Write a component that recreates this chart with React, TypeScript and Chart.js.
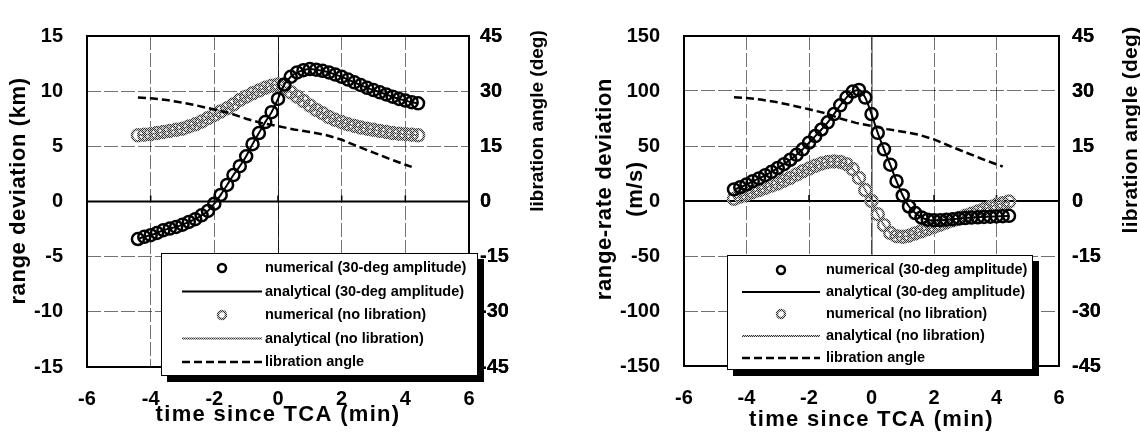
import React, { useEffect, useRef } from 'react';
import { Chart, registerables } from 'chart.js';

Chart.register(...registerables);

// ---------- data ----------
const TIME = [
  -4.4, -4.2, -4.0, -3.8, -3.6, -3.4, -3.2, -3.0, -2.8, -2.6, -2.4, -2.2, -2.0, -1.8, -1.6,
  -1.4, -1.2, -1.0, -0.8, -0.6, -0.4, -0.2, 0.0, 0.2, 0.4, 0.6, 0.8, 1.0, 1.2, 1.4,
  1.6, 1.8, 2.0, 2.2, 2.4, 2.6, 2.8, 3.0, 3.2, 3.4, 3.6, 3.8, 4.0, 4.2, 4.4,
];

// range deviation (km), 30-deg amplitude
const RANGE_NUM_30 = [
  -3.4, -3.2, -3.05, -2.85, -2.6, -2.45, -2.3, -2.1, -1.85, -1.6, -1.25, -0.85, -0.2, 0.6, 1.5,
  2.4, 3.2, 4.1, 5.2, 6.2, 7.2, 8.1, 9.3, 10.6, 11.3, 11.7, 11.9, 12.0, 11.95, 11.85,
  11.7, 11.5, 11.3, 11.05, 10.8, 10.55, 10.3, 10.1, 9.9, 9.7, 9.5, 9.3, 9.15, 9.0, 8.9,
];
const RANGE_ANA_30 = RANGE_NUM_30;

// range deviation (km), no libration
const RANGE_NUM_NO = [
  6.0, 6.05, 6.1, 6.2, 6.3, 6.4, 6.5, 6.6, 6.8, 7.0, 7.25, 7.55, 7.85, 8.15, 8.45,
  8.8, 9.2, 9.5, 9.8, 10.05, 10.3, 10.5, 10.6, 10.4, 9.9, 9.5, 9.1, 8.7, 8.3, 8.0,
  7.65, 7.4, 7.2, 7.0, 6.85, 6.7, 6.6, 6.5, 6.4, 6.3, 6.2, 6.15, 6.1, 6.05, 6.0,
];
const RANGE_ANA_NO = RANGE_NUM_NO;

// range-rate deviation (m/s), 30-deg amplitude
const RATE_NUM_30 = [
  10.5, 12.5, 15, 18, 20.5, 23.5, 26.5, 30, 33.5, 37.5, 42, 47, 53, 59, 65,
  71.5, 79, 87, 94, 99.5, 101, 94, 79, 62, 47, 33, 18, 5, -5, -11,
  -15, -17, -17.5, -17.5, -17, -16.5, -16, -15.5, -15, -14.8, -14.5, -14.3, -14, -13.8, -13.5,
];
const RATE_ANA_30 = RATE_NUM_30;

// range-rate deviation (m/s), no libration
const RATE_NUM_NO = [
  2, 4, 6, 8, 10, 12, 14, 16, 18.5, 21, 24, 27, 29.5, 32, 34,
  35.5, 36, 35.5, 33.5, 29, 21, 10, 0, -12, -22, -29, -32, -32.5, -31.5, -29.5,
  -27.5, -25.5, -23.5, -21.5, -19.5, -17.5, -15.5, -13.5, -11.5, -9.5, -7.5, -5.5, -3.5, -2, -0.5,
];
const RATE_ANA_NO = RATE_NUM_NO;

// libration angle (deg)
const LIB_T = [-4.4, -4.0, -3.5, -3.0, -2.5, -2.0, -1.5, -1.0, -0.5, 0, 0.5, 1.0, 1.5, 2.0, 2.5, 3.0, 3.5, 4.0, 4.2];
const LIB_DEG = [28.3, 28.1, 27.6, 26.9, 26.0, 25.0, 24.0, 22.5, 21.3, 20.5, 19.6, 18.9, 18.1, 16.8, 15.0, 13.3, 11.6, 10.0, 9.4];

const LABELS = [
  'numerical (30-deg amplitude)',
  'analytical (30-deg amplitude)',
  'numerical (no libration)',
  'analytical (no libration)',
  'libration angle',
];

const X_TITLE = 'time since TCA (min)';
const Y2_TITLE = 'libration angle (deg)';
const LEFT_Y_TITLE = ['range deviation (km)'];
const RIGHT_Y_TITLE = ['range-rate deviation', '(m/s)'];

const X_RANGE = { min: -6, max: 6, step: 2 };
const Y2_RANGE = { min: -45, max: 45, step: 15 };
const LEFT_Y_RANGE = { min: -15, max: 15, step: 5 };
const RIGHT_Y_RANGE = { min: -150, max: 150, step: 50 };

const FONT = '"Liberation Sans", Arial, Helvetica, sans-serif';

function pts(xs: number[], ys: number[]) {
  return xs.map((x, i) => ({ x, y: ys[i] }));
}

function stipple(): CanvasPattern | string {
  const c = document.createElement('canvas');
  c.width = 2;
  c.height = 2;
  const g = c.getContext('2d');
  if (!g) return '#888';
  g.fillStyle = '#d0d0d0';
  g.fillRect(0, 0, 2, 2);
  g.fillStyle = '#303030';
  g.fillRect(0, 0, 1, 1);
  g.fillRect(1, 1, 1, 1);
  return g.createPattern(c, 'repeat') || '#888';
}

type Geo = {
  yW: number;
  y2W: number;
  xH: number;
  top: number;
  yPad: number;
  y2Pad: number;
  xPad: number;
  tickSize: number;
  r: number;
  yRange: { min: number; max: number; step: number };
  yTitles: { text: string; x: number }[];
  yTitleY: number;
  y2Title: { x: number; y: number; size: number; spacing: number };
  xTitleY: number;
  legend: { x: number; y: number; w: number; h: number; row0: number; gap: number; s0: number; s1: number; tx: number };
};

function buildConfig(geo: Geo, num30: number[], ana30: number[], numNo: number[], anaNo: number[], stip: any): any {
  const decor = {
    id: 'paperDecor',
    beforeDatasetsDraw(chart: any) {
      const { ctx, chartArea: a, scales } = chart;
      ctx.save();
      // zero line
      const y0 = scales.y.getPixelForValue(0);
      ctx.strokeStyle = '#000';
      ctx.lineWidth = 2;
      ctx.beginPath();
      ctx.moveTo(a.left, y0);
      ctx.lineTo(a.right, y0);
      ctx.stroke();
      // x=0 vertical
      const x0 = scales.x.getPixelForValue(0);
      ctx.lineWidth = 1;
      ctx.strokeStyle = 'rgba(0,0,0,0.8)';
      ctx.beginPath();
      ctx.moveTo(x0 + 0.5, a.top);
      ctx.lineTo(x0 + 0.5, a.bottom);
      ctx.stroke();
      // tick marks on the zero line
      ctx.lineWidth = 1.5;
      ctx.strokeStyle = '#000';
      scales.x.ticks.forEach((t: any) => {
        if (t.value <= X_RANGE.min || t.value >= X_RANGE.max) return;
        const px = scales.x.getPixelForValue(t.value);
        ctx.beginPath();
        ctx.moveTo(px, y0);
        ctx.lineTo(px, y0 - 6);
        ctx.stroke();
      });
      // frame
      ctx.lineWidth = 2;
      ctx.strokeRect(a.left, a.top, a.right - a.left, a.bottom - a.top);
      ctx.restore();
    },
    afterDraw(chart: any) {
      const { ctx, chartArea: a } = chart;
      ctx.save();
      // axis titles
      ctx.fillStyle = '#000';
      ctx.textAlign = 'center';
      ctx.textBaseline = 'middle';
      (ctx as any).letterSpacing = '1.3px';
      ctx.font = `bold 22px ${FONT}`;
      ctx.fillText(X_TITLE, (a.left + a.right) / 2, geo.xTitleY);
      (ctx as any).letterSpacing = '0.6px';
      geo.yTitles.forEach((t) => {
        ctx.save();
        ctx.translate(t.x, geo.yTitleY);
        ctx.rotate(-Math.PI / 2);
        ctx.fillText(t.text, 0, 0);
        ctx.restore();
      });
      (ctx as any).letterSpacing = `${geo.y2Title.spacing}px`;
      ctx.font = `bold ${geo.y2Title.size}px ${FONT}`;
      ctx.save();
      ctx.translate(geo.y2Title.x, geo.y2Title.y);
      ctx.rotate(-Math.PI / 2);
      ctx.fillText(Y2_TITLE, 0, 0);
      ctx.restore();
      (ctx as any).letterSpacing = '0px';

      // legend
      const L = geo.legend;
      ctx.fillStyle = '#000';
      ctx.fillRect(L.x + 6, L.y + 6, L.w, L.h);
      ctx.fillStyle = '#fff';
      ctx.fillRect(L.x, L.y, L.w, L.h);
      ctx.strokeStyle = '#000';
      ctx.lineWidth = 1;
      ctx.strokeRect(L.x + 0.5, L.y + 0.5, L.w - 1, L.h - 1);
      ctx.font = `bold 14.5px ${FONT}`;
      ctx.textAlign = 'left';
      ctx.textBaseline = 'middle';
      chart.data.datasets.forEach((d: any, i: number) => {
        const y = L.row0 + i * L.gap;
        ctx.save();
        if (d.showLine) {
          ctx.strokeStyle = d.borderColor;
          ctx.lineWidth = d.borderWidth;
          ctx.setLineDash(d.borderDash || []);
          ctx.beginPath();
          ctx.moveTo(L.s0, y);
          ctx.lineTo(L.s1, y);
          ctx.stroke();
        } else {
          ctx.strokeStyle = d.pointBorderColor;
          ctx.lineWidth = 2.5;
          ctx.beginPath();
          ctx.arc((L.s0 + L.s1) / 2, y, 4, 0, Math.PI * 2);
          ctx.stroke();
        }
        ctx.restore();
        ctx.fillStyle = '#000';
        ctx.fillText(d.label, L.tx, y);
      });
      ctx.restore();

      // right-axis labels stay on top of the legend shadow
      const y2 = chart.scales.y2;
      if (y2 && typeof y2.drawLabels === 'function') {
        y2.drawLabels(chart.chartArea);
      }
    },
  };

  const tickFont = { family: FONT, size: geo.tickSize, weight: 'bold' as const };

  return {
    type: 'scatter',
    data: {
      datasets: [
        {
          label: LABELS[0],
          data: pts(TIME, num30),
          showLine: false,
          pointRadius: geo.r,
          pointBorderWidth: 2.5,
          pointBorderColor: '#000',
          pointBackgroundColor: 'rgba(0,0,0,0)',
          borderColor: '#000',
          yAxisID: 'y',
          order: 0,
        },
        {
          label: LABELS[1],
          data: pts(TIME, ana30),
          showLine: true,
          pointRadius: 0,
          borderColor: '#000',
          borderWidth: 2,
          cubicInterpolationMode: 'monotone',
          yAxisID: 'y',
          order: 1,
        },
        {
          label: LABELS[2],
          data: pts(TIME, numNo),
          showLine: false,
          pointRadius: geo.r,
          pointBorderWidth: 2.5,
          pointBorderColor: stip,
          pointBackgroundColor: 'rgba(0,0,0,0)',
          borderColor: stip,
          yAxisID: 'y',
          order: 3,
        },
        {
          label: LABELS[3],
          data: pts(TIME, anaNo),
          showLine: true,
          pointRadius: 0,
          borderColor: stip,
          borderWidth: 2,
          cubicInterpolationMode: 'monotone',
          yAxisID: 'y',
          order: 4,
        },
        {
          label: LABELS[4],
          data: pts(LIB_T, LIB_DEG),
          showLine: true,
          pointRadius: 0,
          borderColor: '#000',
          borderWidth: 2.5,
          borderDash: [8, 4],
          yAxisID: 'y2',
          order: 2,
        },
      ],
    },
    options: {
      responsive: false,
      animation: false,
      devicePixelRatio: 1,
      events: [],
      layout: { padding: { top: geo.top, left: 0, right: 0, bottom: 0 }, autoPadding: false },
      plugins: { legend: { display: false }, tooltip: { enabled: false }, title: { display: false } },
      scales: {
        x: {
          type: 'linear',
          position: 'bottom',
          min: X_RANGE.min,
          max: X_RANGE.max,
          afterFit: (s: any) => {
            s.height = geo.xH;
          },
          ticks: { stepSize: X_RANGE.step, autoSkip: false, maxRotation: 0, color: '#000', font: tickFont, padding: geo.xPad },
          grid: { color: 'rgba(0,0,0,0.55)', lineWidth: 1, drawTicks: false },
          border: { display: false, dash: [14, 3] },
        },
        y: {
          type: 'linear',
          position: 'left',
          min: geo.yRange.min,
          max: geo.yRange.max,
          afterFit: (s: any) => {
            s.width = geo.yW;
          },
          ticks: { stepSize: geo.yRange.step, color: '#000', font: tickFont, padding: geo.yPad },
          grid: { color: 'rgba(0,0,0,0.55)', lineWidth: 1, drawTicks: false },
          border: { display: false, dash: [14, 3] },
        },
        y2: {
          type: 'linear',
          position: 'right',
          min: Y2_RANGE.min,
          max: Y2_RANGE.max,
          afterFit: (s: any) => {
            s.width = geo.y2W;
          },
          ticks: { stepSize: Y2_RANGE.step, color: '#000', font: tickFont, padding: geo.y2Pad },
          grid: { drawOnChartArea: false, drawTicks: false },
          border: { display: false },
        },
      },
    },
    plugins: [decor],
  };
}

const LEFT_GEO: Geo = {
  yW: 87,
  y2W: 101,
  xH: 71,
  top: 16,
  yPad: 24,
  y2Pad: 11,
  xPad: 20,
  tickSize: 20,
  r: 6,
  yRange: LEFT_Y_RANGE,
  yTitles: [{ text: LEFT_Y_TITLE[0], x: 19 }],
  yTitleY: 191,
  y2Title: { x: 538, y: 121, size: 19, spacing: 0 },
  xTitleY: 415,
  legend: { x: 161, y: 253, w: 317, h: 123, row0: 268, gap: 23.5, s0: 182, s1: 262, tx: 265 },
};

const RIGHT_GEO: Geo = {
  yW: 114,
  y2W: 81,
  xH: 72,
  top: 16,
  yPad: 24,
  y2Pad: 13,
  xPad: 20,
  tickSize: 20,
  r: 6,
  yRange: RIGHT_Y_RANGE,
  yTitles: [
    { text: RIGHT_Y_TITLE[0], x: 35 },
    { text: RIGHT_Y_TITLE[1], x: 66 },
  ],
  yTitleY: 189,
  y2Title: { x: 561, y: 130, size: 21, spacing: 0.3 },
  xTitleY: 420,
  legend: { x: 157, y: 255, w: 306, h: 115, row0: 270, gap: 22, s0: 172, s1: 250, tx: 256 },
};

export default function App() {
  const leftRef = useRef<HTMLCanvasElement>(null);
  const rightRef = useRef<HTMLCanvasElement>(null);

  useEffect(() => {
    Chart.defaults.font.family = FONT;
    const stip = stipple();
    const c1 = new Chart(leftRef.current as HTMLCanvasElement, buildConfig(LEFT_GEO, RANGE_NUM_30, RANGE_ANA_30, RANGE_NUM_NO, RANGE_ANA_NO, stip));
    const c2 = new Chart(rightRef.current as HTMLCanvasElement, buildConfig(RIGHT_GEO, RATE_NUM_30, RATE_ANA_30, RATE_NUM_NO, RATE_ANA_NO, stip));
    return () => {
      c1.destroy();
      c2.destroy();
    };
  }, []);

  return (
    <div style={{ position: 'absolute', left: 0, top: 0, width: 1140, height: 438, background: '#fff', display: 'flex' }}>
      <canvas ref={leftRef} width={570} height={438} style={{ display: 'block', width: 570, height: 438 }} />
      <canvas ref={rightRef} width={570} height={438} style={{ display: 'block', width: 570, height: 438 }} />
    </div>
  );
}
